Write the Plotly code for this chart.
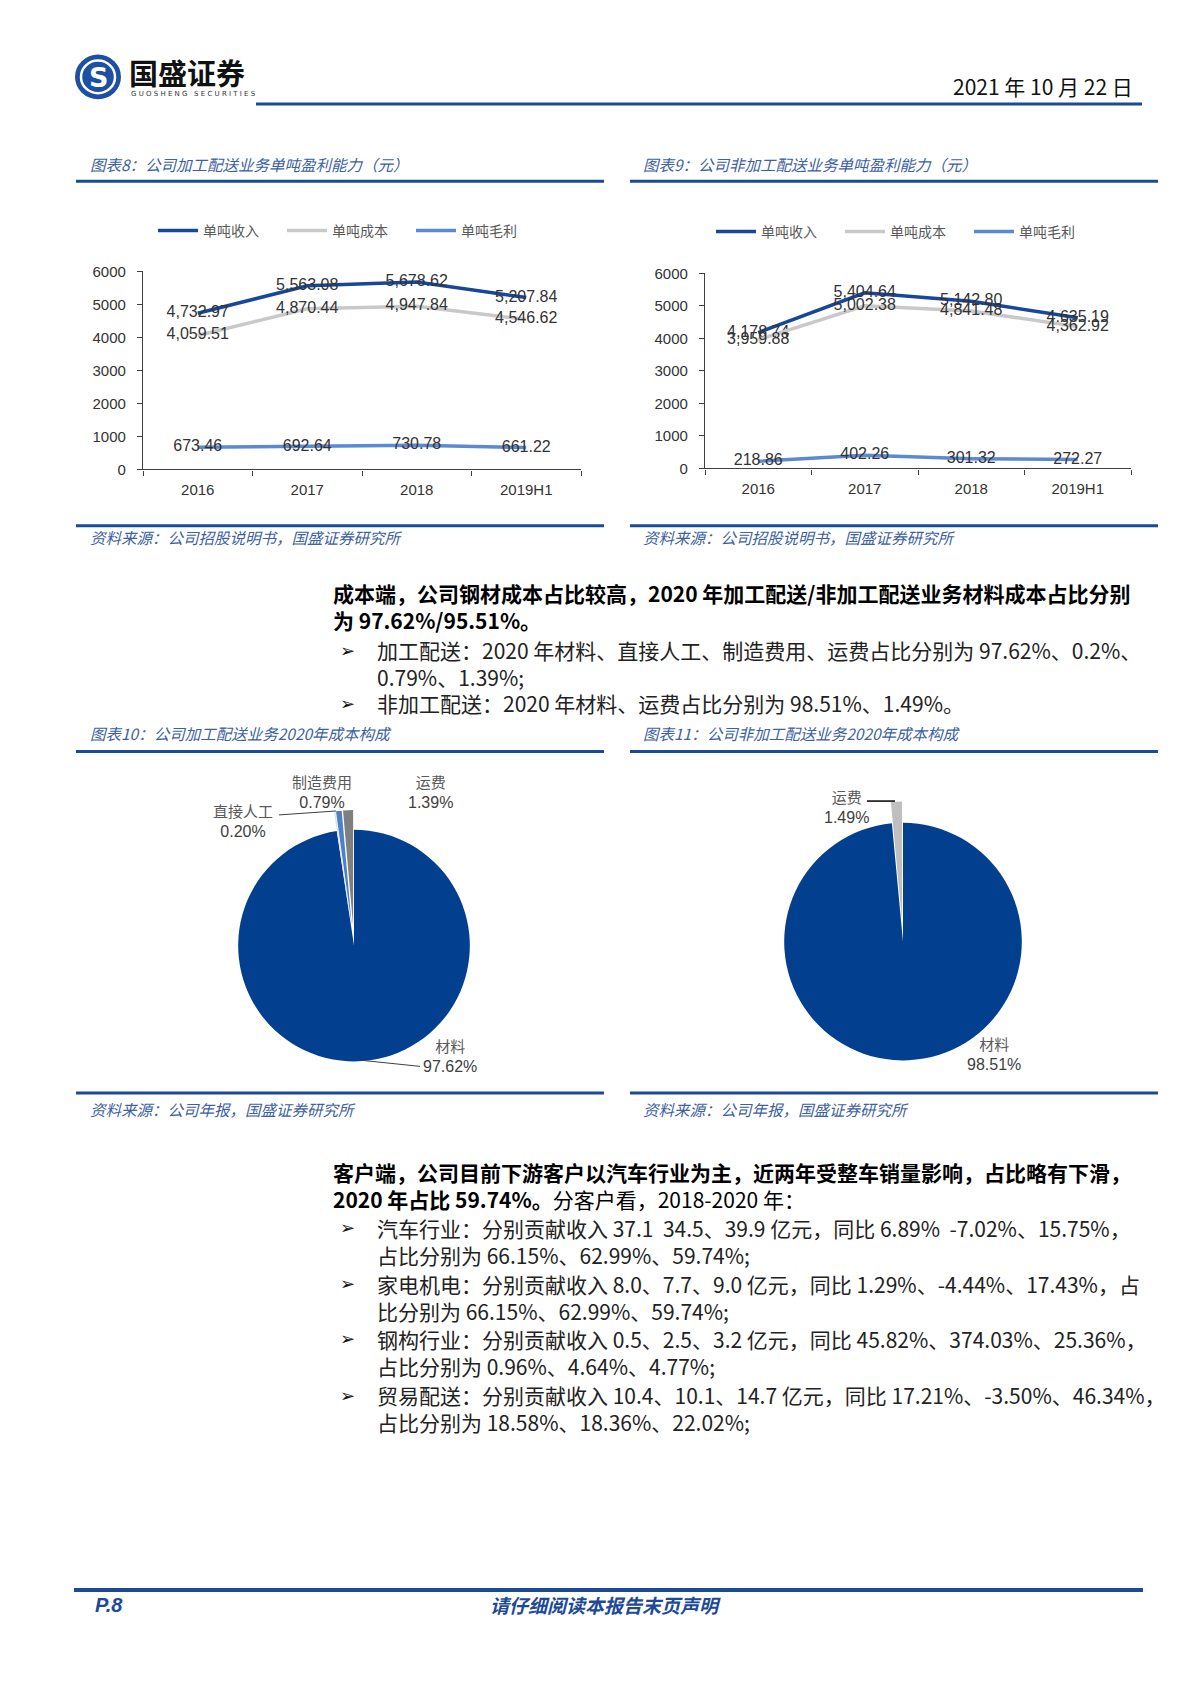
import plotly.graph_objects as go

W, H = 1200, 1698

# ---- data ----
years = ["2016", "2017", "2018", "2019H1"]
series_names = ["单吨收入", "单吨成本", "单吨毛利"]
# 图表8 加工配送
jg_income = [4732.97, 5563.08, 5678.62, 5207.84]
jg_cost = [4059.51, 4870.44, 4947.84, 4546.62]
jg_profit = [673.46, 692.64, 730.78, 661.22]
# 图表9 非加工配送
fjg_income = [4178.74, 5404.64, 5142.80, 4635.19]
fjg_cost = [3959.88, 5002.38, 4841.48, 4362.92]
fjg_profit = [218.86, 402.26, 301.32, 272.27]
y_ticks = [0, 1000, 2000, 3000, 4000, 5000, 6000]

# 图表10 / 图表11 成本构成 (%)
jg_items = ["材料", "直接人工", "制造费用", "运费"]
jg_share = [97.62, 0.20, 0.79, 1.39]
fjg_items = ["材料", "运费"]
fjg_share = [98.51, 1.49]

NAVY = "#1A4B96"
LINE_COLORS = ["#17479A", "#C9C9C9", "#5B8AD2"]
TITLE_BLUE = "#3D5FA3"
CJK = "Noto Sans CJK SC, DejaVu Sans"
NUM = "Liberation Sans, Arial"


def px(x):
    return x / W


def py(y):
    return 1 - y / H


fig = go.Figure()
annotations = []
shapes = []


def note(x, y, s, size=14, color="#000", anchor="left", family=CJK):
    annotations.append(dict(x=px(x), y=py(y), xref="paper", yref="paper", text=s,
                            showarrow=False, xanchor=anchor, yanchor="middle", align=anchor
                            if anchor != "center" else "center",
                            borderpad=0, font=dict(size=size, color=color, family=family)))


def hline(x0, x1, y, color=NAVY, width=3):
    shapes.append(dict(type="line", xref="paper", yref="paper", x0=px(x0), x1=px(x1),
                       y0=py(y), y1=py(y), line=dict(color=color, width=width)))


def seg(x0, y0, x1, y1, color="#404040", width=1):
    shapes.append(dict(type="line", xref="paper", yref="paper", x0=px(x0), x1=px(x1),
                       y0=py(y0), y1=py(y1), line=dict(color=color, width=width)))


# ---- line charts ----
charts = [
    (("x", "y", "legend"), [jg_income, jg_cost, jg_profit]),
    (("x2", "y2", "legend2"), [fjg_income, fjg_cost, fjg_profit]),
]
for (xa, ya, lg), data in charts:
    for name, vals, col in zip(series_names, data, LINE_COLORS):
        fig.add_trace(go.Scatter(
            x=years, y=vals, name=name, xaxis=xa, yaxis=ya, legend=lg,
            mode="lines+text", line=dict(color=col, width=3.5),
            texttemplate="%{y:,.2f}", textposition="middle center",
            textfont=dict(size=16, color="#333333", family=NUM),
            hoverinfo="skip"))

axis_common = dict(showline=True, linecolor="#404040", linewidth=1.3, showgrid=False,
                   zeroline=False, ticks="outside", ticklen=5, tickcolor="#404040",
                   tickfont=dict(size=15, color="#333333", family=NUM))
fig.update_layout(
    xaxis=dict(domain=[px(135), px(573)], anchor="y", type="category",
               range=[-0.5, 3.5], tickson="boundaries", ticklabelstandoff=6, **axis_common),
    yaxis=dict(domain=[py(457), py(257)], anchor="x", range=[0, 6000],
               tickvals=y_ticks, ticklabelstandoff=8, **axis_common),
    xaxis2=dict(domain=[px(697), px(1123)], anchor="y2", type="category",
                range=[-0.5, 3.5], tickson="boundaries", ticklabelstandoff=6, **axis_common),
    yaxis2=dict(domain=[py(456), py(259)], anchor="x2", range=[0, 6000],
                tickvals=y_ticks, ticklabelstandoff=8, **axis_common),
)

legend_common = dict(orientation="h", xanchor="left", yanchor="middle",
                     font=dict(size=14, color="#595959", family=CJK),
                     itemwidth=40, entrywidth=74, entrywidthmode="pixels",
                     bgcolor="rgba(0,0,0,0)", itemclick=False, itemdoubleclick=False)
fig.update_layout(
    legend=dict(x=px(145), y=py(216), **legend_common),
    legend2=dict(x=px(703), y=py(217), **legend_common),
)

# ---- pies ----
pies = [
    (jg_items, jg_share, ["#02408F", "#DCE4F0", "#4E80C6", "#7F7F7F"], 346, 938, 117, 0.17),
    (fjg_items, fjg_share, ["#02408F", "#BFBFBF"], 895, 934, 120, 0.18),
]
for items, share, cols, cx, cy, r, pull in pies:
    half = r * (1 + pull)
    fig.add_trace(go.Pie(
        labels=items, values=share, sort=False, direction="clockwise", rotation=0,
        marker=dict(colors=cols, line=dict(width=0)), textinfo="none",
        pull=[0] + [pull] * (len(items) - 1), showlegend=False, hoverinfo="skip",
        domain=dict(x=[px(cx - half), px(cx + half)], y=[py(cy + half), py(cy - half)])))

# pie label placement: label centre x, y
jg_label_pos = {"材料": (442, 1049), "直接人工": (235, 811),
                "制造费用": (314, 782), "运费": (422, 782)}
fjg_label_pos = {"材料": (986, 1046), "运费": (838, 797)}
for items, share, pos in [(jg_items, jg_share, jg_label_pos), (fjg_items, fjg_share, fjg_label_pos)]:
    for name, val in zip(items, share):
        x, y = pos[name]
        note(x, y, f"{name}<br><span style='font-family:Liberation Sans;font-size:16px;"
                   f"color:#404040'>{val:.2f}%</span>",
             size=15, color="#595959", anchor="center")
seg(271, 806, 328, 802)
seg(355, 1054, 412, 1060)
seg(859, 792, 887, 792, color="#000", width=1.5)

# ---- page header ----
shapes.append(dict(type="circle", xref="paper", yref="paper", x0=px(67), x1=px(113),
                   y0=py(83), y1=py(38), fillcolor="#1D50A3", line=dict(width=0)))
shapes.append(dict(type="circle", xref="paper", yref="paper", x0=px(73), x1=px(107),
                   y0=py(77), y1=py(44), fillcolor="rgba(0,0,0,0)",
                   line=dict(color="white", width=2.5)))
note(90, 61, "<b>S</b>", size=27, color="white", anchor="center", family="DejaVu Sans")
note(120, 56, "<b>国盛证券</b>", size=29, color="#111", family=CJK)
note(122, 78, "G U O S H E N G   S E C U R I T I E S", size=7, color="#333", family="DejaVu Sans")
hline(248, 1134, 88)
note(1126, 70, "2021 年 10 月 22 日", size=21, color="#111", anchor="right", family=CJK)

# ---- chart frames ----
for x0, x1 in [(68, 596), (622, 1150)]:
    hline(x0, x1, 166)
    hline(x0, x1, 514)
    hline(x0, x1, 742)
    hline(x0, x1, 1087)
TS = 15.5
note(81, 148, "<i>图表8：公司加工配送业务单吨盈利能力（元）</i>", size=TS, color=TITLE_BLUE)
note(634, 148, "<i>图表9：公司非加工配送业务单吨盈利能力（元）</i>", size=TS, color=TITLE_BLUE)
note(81, 525, "<i>资料来源：公司招股说明书，国盛证券研究所</i>", size=TS, color=TITLE_BLUE)
note(634, 525, "<i>资料来源：公司招股说明书，国盛证券研究所</i>", size=TS, color=TITLE_BLUE)
note(81, 723, "<i>图表10：公司加工配送业务2020年成本构成</i>", size=TS, color=TITLE_BLUE)
note(634, 723, "<i>图表11：公司非加工配送业务2020年成本构成</i>", size=TS, color=TITLE_BLUE)
note(81, 1103, "<i>资料来源：公司年报，国盛证券研究所</i>", size=TS, color=TITLE_BLUE)
note(634, 1103, "<i>资料来源：公司年报，国盛证券研究所</i>", size=TS, color=TITLE_BLUE)

# ---- body text ----
BODY = 21
paragraphs = [
    (595.5, "<b>成本端，公司钢材成本占比较高，2020 年加工配送/非加工配送业务材料成本占比分别<br>"
            "为 97.62%/95.51%。</b>"),
    (1180, "<b>客户端，公司目前下游客户以汽车行业为主，近两年受整车销量影响，占比略有下滑，<br>"
           "2020 年占比 59.74%。</b>分客户看，2018-2020 年："),
]
for y, s in paragraphs:
    note(324, y, s, size=BODY, color="#000")

# (first line y, block centre y, text)
bullets = [
    (640, 653, "加工配送：2020 年材料、直接人工、制造费用、运费占比分别为 97.62%、0.2%、<br>"
               "0.79%、1.39%;"),
    (693, 693, "非加工配送：2020 年材料、运费占比分别为 98.51%、1.49%。"),
    (1223, 1236.5, "汽车行业：分别贡献收入 37.1  34.5、39.9 亿元，同比 6.89%  -7.02%、15.75%，<br>"
                   "占比分别为 66.15%、62.99%、59.74%;"),
    (1279, 1293, "家电机电：分别贡献收入 8.0、7.7、9.0 亿元，同比 1.29%、-4.44%、17.43%，占<br>"
                 "比分别为 66.15%、62.99%、59.74%;"),
    (1335, 1349, "钢构行业：分别贡献收入 0.5、2.5、3.2 亿元，同比 45.82%、374.03%、25.36%，<br>"
                 "占比分别为 0.96%、4.64%、4.77%;"),
    (1392, 1405.5, "贸易配送：分别贡献收入 10.4、10.1、14.7 亿元，同比 17.21%、-3.50%、46.34%，<br>"
                   "占比分别为 18.58%、18.36%、22.02%;"),
]
for y_first, y_mid, s in bullets:
    note(331, y_first, "<b>➢</b>", size=18, color="#111", family="DejaVu Sans")
    note(368, y_mid, s, size=BODY, color="#222")

# ---- footer ----
hline(66, 1135, 1589, width=4)
note(86, 1604, "<b><i>P.8</i></b>", size=20, color="#1D4A96", family="Liberation Sans")
note(597, 1604, "<b><i>请仔细阅读本报告末页声明</i></b>", size=19, color="#1D4A96", anchor="center")

fig.update_layout(
    width=W, height=H, margin=dict(l=0, r=0, t=0, b=0),
    paper_bgcolor="white", plot_bgcolor="white",
    annotations=annotations, shapes=shapes,
    font=dict(family=CJK),
)

fig.write_html("out.html")
